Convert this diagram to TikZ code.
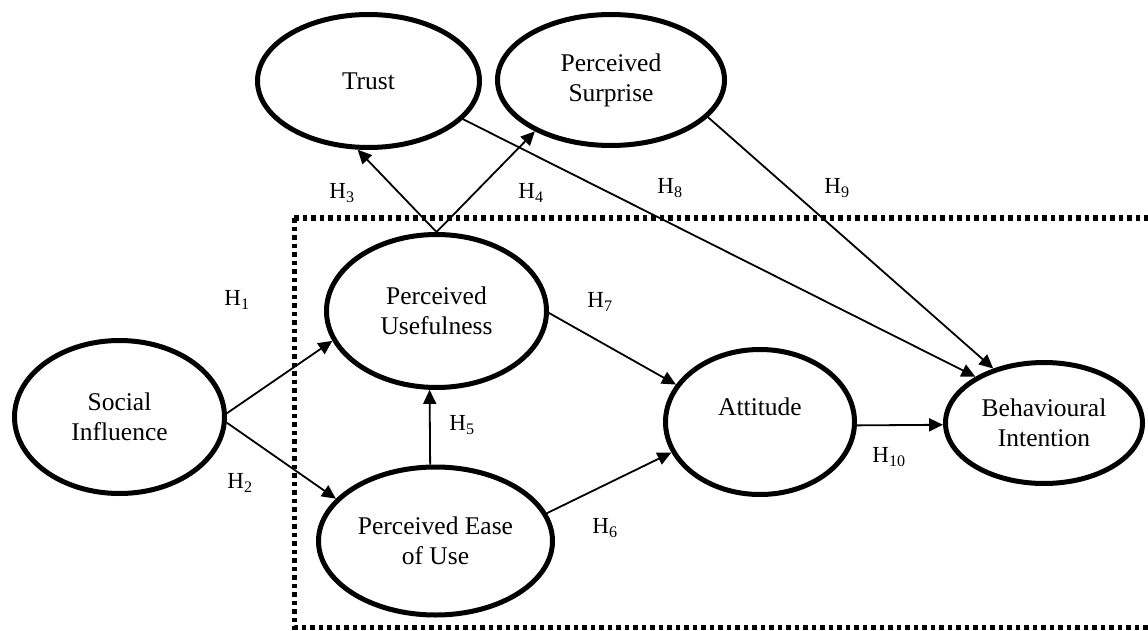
\documentclass[tikz,border=0pt]{standalone}
\usepackage{fontspec}
\setmainfont{Liberation Serif}
\usetikzlibrary{shapes.geometric,arrows.meta}

\begin{document}
\begin{tikzpicture}[x=1pt,y=-1pt,
	construct/.style={draw,ellipse,line width=5pt,inner sep=0pt,align=center,
		font=\fontsize{25.5}{30}\selectfont},
	hyparrow/.style={line width=1.8pt,-{Triangle[length=14pt,width=13pt]}},
	hyp/.style={font=\fontsize{23}{25}\selectfont}]
	\useasboundingbox (0,0) rectangle (1148,631);
	\clip (0,0) rectangle (1148,631);
	\draw[line width=5pt,dash pattern=on 4.5pt off 4pt] (294,218) rectangle (1175,627);
	\node[construct,minimum width=222pt,minimum height=133pt] (trust) at (368.5,81) {Trust};
	\node[construct,minimum width=227pt,minimum height=131pt] (sur) at (611,80) {Perceived\\Surprise};
	\node[construct,minimum width=210pt,minimum height=153pt] (si) at (119.5,417) {Social\\Influence};
	\node[construct,minimum width=220pt,minimum height=153pt] (pu) at (436.5,311) {Perceived\\Usefulness};
	\node[construct,minimum width=234pt,minimum height=148pt] (peu) at (435.5,541) {Perceived Ease\\of Use};
	\node[construct,minimum width=189pt,minimum height=145pt] (att) at (760,422) {Attitude\\\mbox{}};
	\node[construct,minimum width=197pt,minimum height=121pt] (bi) at (1044,423) {Behavioural\\Intention};
	% paths
	\draw[hyparrow] (si.2) -- (pu.196);
	\draw[hyparrow] (si.-3) -- (peu.157);
	\draw[hyparrow] (peu.94) -- (pu.265);
	\draw[hyparrow] (pu.north) -- (trust.261);
	\draw[hyparrow] (pu.north) -- (sur.214);
	\draw[hyparrow] (pu.-1) -- (att.156);
	\draw[hyparrow] (peu.14) -- (att.199);
	\draw[hyparrow] (att.-2) -- (bi.181);
	\draw[hyparrow] (trust.-22) -- (bi.146);
	\draw[hyparrow] (sur.-21) -- (bi.133);
	% hypotheses
	\node[hyp] (h1) at (237,300) {H\textsubscript{1}};
	\node[hyp] (h2) at (240,483) {H\textsubscript{2}};
	\node[hyp] (h3) at (342,193) {H\textsubscript{3}};
	\node[hyp] (h4) at (531,193) {H\textsubscript{4}};
	\node[hyp] (h5) at (462,425) {H\textsubscript{5}};
	\node[hyp] (h6) at (605,528) {H\textsubscript{6}};
	\node[hyp] (h7) at (600,302) {H\textsubscript{7}};
	\node[hyp] (h8) at (670,188) {H\textsubscript{8}};
	\node[hyp] (h9) at (837,188) {H\textsubscript{9}};
	\node[hyp] (h10) at (889,457) {H\textsubscript{10}};
\end{tikzpicture}
\end{document}
